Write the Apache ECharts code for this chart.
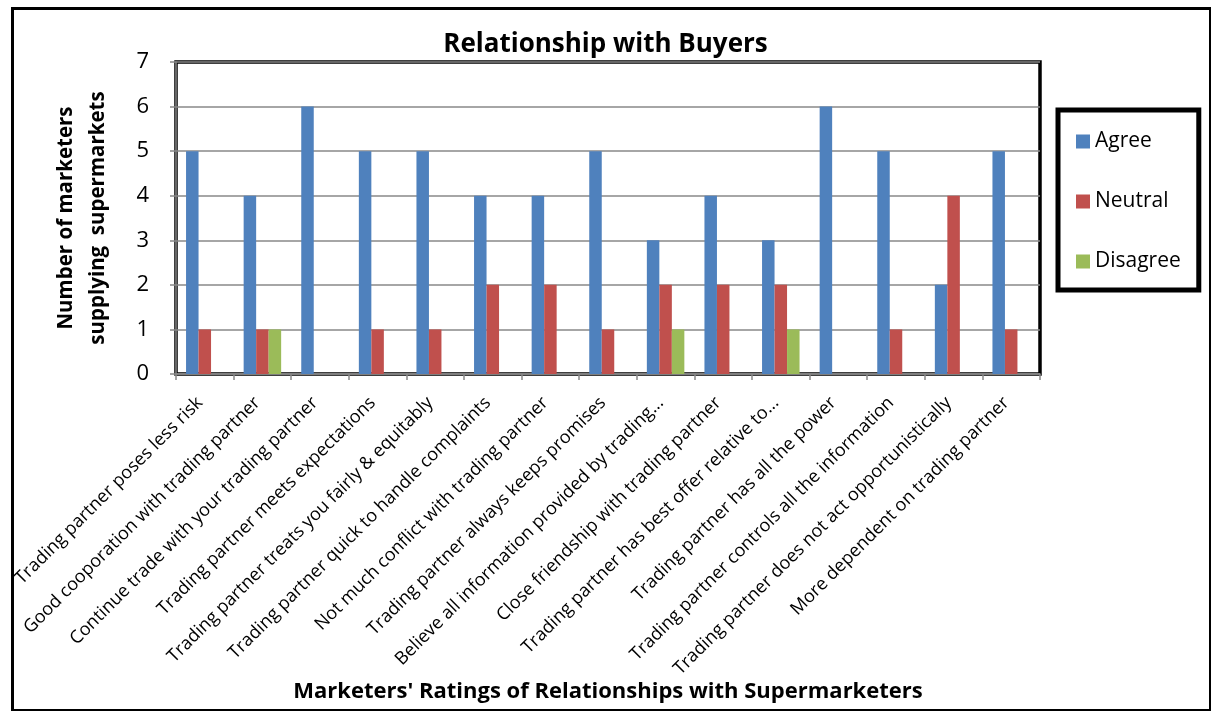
<!DOCTYPE html>
<html>
<head>
<meta charset="utf-8">
<script src="https://cdn.jsdelivr.net/npm/echarts@6/dist/echarts.min.js"></script>
<style>
  html, body { margin: 0; padding: 0; background: #fff; }
  #main { width: 1211px; height: 711px; }
</style>
</head>
<body>
<div id="main"></div>
<script>
// categories on the x axis (as printed, including truncation)
var categories = [
  'Trading partner poses less risk',
  'Good cooporation with trading partner',
  'Continue trade with your trading partner',
  'Trading partner meets expectations',
  'Trading partner treats you fairly & equitably',
  'Trading partner quick to handle complaints',
  'Not much conflict with trading partner',
  'Trading partner always keeps promises',
  'Believe all information provided by trading...',
  'Close friendship with trading partner',
  'Trading partner has best offer relative to...',
  'Trading partner has all the power',
  'Trading partner controls all the information',
  'Trading partner does not act opportunistically',
  'More dependent on trading partner'
];
// series values
var agree    = [5, 4, 6, 5, 5, 4, 4, 5, 3, 4, 3, 6, 5, 2, 5];
var neutral  = [1, 1, 0, 1, 1, 2, 2, 1, 2, 2, 2, 0, 1, 4, 1];
var disagree = [0, 1, 0, 0, 0, 0, 0, 0, 1, 0, 1, 0, 0, 0, 0];

var font = 'Open Sans';

var myChart = echarts.init(document.getElementById('main'));
myChart.setOption({
  animation: false,
  color: ['#4F81BD', '#C0504D', '#9BBB59'],
  textStyle: { fontFamily: font, color: '#000' },
  title: {
    text: 'Relationship with Buyers',
    left: 'center',
    top: 27,
    textStyle: { fontFamily: font, fontSize: 26, fontWeight: 'bold', color: '#000' }
  },
  legend: {
    orient: 'vertical',
    left: 1058,
    top: 110,
    padding: [21, 18, 18, 18],
    itemGap: 39,
    itemWidth: 14,
    itemHeight: 14,
    borderColor: '#000',
    borderWidth: 5,
    icon: 'rect',
    textStyle: { fontFamily: font, fontSize: 21, color: '#000' },
    data: ['Agree', 'Neutral', 'Disagree']
  },
  grid: {
    left: 176,
    top: 62,
    right: 171,
    bottom: 337,
    outerBoundsMode: 'none',
    show: true,
    borderColor: '#000',
    borderWidth: 3.5
  },
  xAxis: {
    type: 'category',
    data: categories,
    name: "Marketers' Ratings of Relationships with Supermarketers",
    nameLocation: 'middle',
    nameGap: 307,
    nameTextStyle: { fontFamily: font, fontSize: 22, fontWeight: 'bold', color: '#000' },
    axisLine: { show: true, lineStyle: { color: '#888', width: 1.5 } },
    axisTick: { show: true, length: 6, lineStyle: { color: '#888', width: 1.5 } },
    axisLabel: {
      interval: 0,
      rotate: 45,
      margin: 21,
      padding: [0, 7, 0, 0],
      fontFamily: font,
      fontSize: 18,
      color: '#000'
    }
  },
  yAxis: {
    type: 'value',
    min: 0,
    max: 7,
    interval: 1,
    name: 'Number of marketers\nsupplying  supermarkets',
    nameLocation: 'middle',
    nameGap: 62,
    nameTextStyle: { fontFamily: font, fontSize: 20.5, fontWeight: 'bold', color: '#000', lineHeight: 32 },
    axisLine: { show: true, lineStyle: { color: '#888', width: 1.5 } },
    axisTick: { show: true, length: 6, lineStyle: { color: '#888', width: 1.5 } },
    axisLabel: { fontFamily: font, fontSize: 22, color: '#000', margin: 27 },
    splitLine: { show: true, lineStyle: { color: '#888', width: 1.5 } }
  },
  graphic: [{
    type: 'rect',
    left: 10,
    top: 6,
    shape: { width: 1198, height: 702 },
    style: { fill: 'none', stroke: '#000', lineWidth: 3 },
    silent: true
  }],
  series: [
    { name: 'Agree', type: 'bar', data: agree, barWidth: 12.5, barGap: '0%' },
    { name: 'Neutral', type: 'bar', data: neutral, barWidth: 12.5, barGap: '0%' },
    { name: 'Disagree', type: 'bar', data: disagree, barWidth: 12.5, barGap: '0%' }
  ]
});
</script>
</body>
</html>
